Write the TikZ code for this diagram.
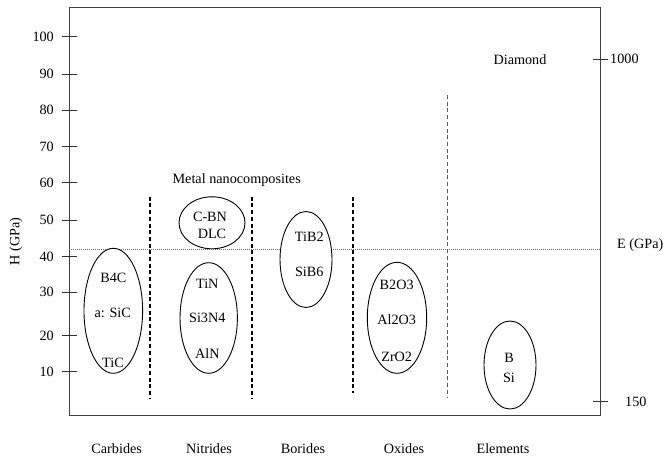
\documentclass[tikz,border=0pt]{standalone}
\usepackage{fontspec}
\setmainfont{Liberation Serif}
\begin{document}
\begin{tikzpicture}[x=1pt,y=-1pt,
  every node/.style={font=\fontsize{14.2}{16}\selectfont, inner sep=0pt},
  frame/.style={draw=black!75, line width=1pt},
  tick/.style={draw=black!80, line width=1pt},
  sep/.style={draw=black, line width=1.8pt, dash pattern=on 4pt off 2.7pt},
  seplight/.style={draw=black!65, line width=1.3pt, dash pattern=on 4pt off 2.7pt},
  eline/.style={draw=black!55, line width=0.9pt, dash pattern=on 1.2pt off 0.8pt},
  grp/.style={draw=black, fill=white, line width=0.9pt}]
\useasboundingbox (0,0) rectangle (663,460);
% frame
\draw[frame] (69,8) rectangle (600.7,415.7);
% left ticks
\foreach \v/\y in {100/37,90/74,80/110,70/146.7,60/182.7,50/220,40/256.7,30/292.3,20/335.7,10/371.7}{
  \draw[tick] (62,\y) -- (77,\y);
  \node[anchor=east] (l\v) at (54,\y) {\v};
}
% right ticks
\draw[tick] (593,59.3) -- (608,59.3);
\node[anchor=west] (r1000) at (610,59.3) {1000};
\draw[tick] (593,401.7) -- (608,401.7);
\node[anchor=west] (r150) at (625,401.7) {150};
% axis labels
\node[rotate=90] (hlab) at (16,241.5) {H (GPa)};
\node[anchor=west] (elab) at (617,245) {E (GPa)};
% E line
\coordinate (e0) at (69,249.3);
\coordinate (e1) at (600.7,249.3);
\draw[eline] (e0) -- (e1);
% separators
\coordinate (s1a) at (150,196.7); \coordinate (s1b) at (150,398);
\coordinate (s2a) at (252,196.7); \coordinate (s2b) at (252,398);
\coordinate (s3a) at (353,196.7); \coordinate (s3b) at (353,393);
\coordinate (s4a) at (447.5,95); \coordinate (s4b) at (447.5,398);
\draw[sep] (s1a) -- (s1b);
\draw[sep] (s2a) -- (s2b);
\draw[sep] (s3a) -- (s3b);
\draw[seplight] (s4a) -- (s4b);
% ellipses
\draw[grp] (113.3,310.8) ellipse [x radius=29.3, y radius=62.5];
\draw[grp] (212,222.8) ellipse [x radius=33, y radius=26];
\draw[grp] (208.7,318) ellipse [x radius=28.7, y radius=55.3];
\draw[grp] (306,259.5) ellipse [x radius=26, y radius=48];
\draw[grp] (397,317.8) ellipse [x radius=29.7, y radius=55.5];
\draw[grp] (510,365) ellipse [x radius=26, y radius=44];
% texts
\node (metal) at (236.7,180) {Metal nanocomposites};
\node (cbn) at (210,216.7) {C-BN};
\node (dlc) at (212,234) {DLC};
\node (b4c) at (113.3,277.7) {B4C};
\node (sic) at (112.7,313.3) {a: SiC};
\node (tic) at (113,363.3) {TiC};
\node (tin) at (207.3,284) {TiN};
\node (si3n4) at (207.3,318.3) {Si3N4};
\node (aln) at (207.3,353.3) {AlN};
\node (tib2) at (309.3,237.3) {TiB2};
\node (sib6) at (309.3,271.7) {SiB6};
\node (b2o3) at (396.7,285) {B2O3};
\node (al2o3) at (396.7,320) {Al2O3};
\node (zro2) at (396.7,356.7) {ZrO2};
\node (bb) at (509,358.3) {B};
\node (si) at (509,378.3) {Si};
\node (diamond) at (520,59.3) {Diamond};
% categories
\node (carb) at (116.7,448.3) {Carbides};
\node (nitr) at (209,448.3) {Nitrides};
\node (bori) at (303,448.3) {Borides};
\node (oxid) at (404,448.3) {Oxides};
\node (elem) at (503,448.3) {Elements};
\end{tikzpicture}
\end{document}
